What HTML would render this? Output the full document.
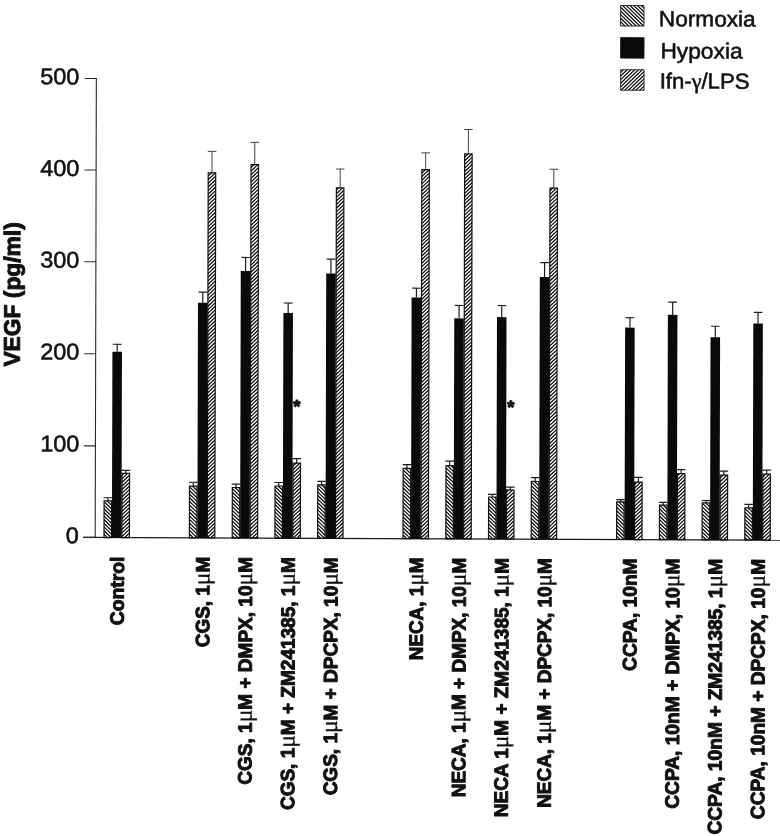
<!DOCTYPE html><html><head><meta charset="utf-8"><title>VEGF chart</title>
<style>html,body{margin:0;padding:0;background:#fff}svg{display:block}text{font-family:"Liberation Sans",Arial,Helvetica,sans-serif;fill:#111;stroke:#111;stroke-width:.55px;stroke-linejoin:round}.b{font-weight:bold;stroke-width:1px}.b .mu{stroke-width:.35px;font-weight:normal;font-family:"Liberation Serif","DejaVu Serif",serif;font-size:24px}.gm{font-family:"Liberation Serif","DejaVu Serif",serif}</style></head><body>
<svg width="780" height="836" viewBox="0 0 780 836">
<defs>
<clipPath id="cn"><rect x="104.0" y="500.8" width="7.5" height="36.7"/><rect x="189.4" y="485.7" width="7.5" height="51.8"/><rect x="232.2" y="487.0" width="7.5" height="50.5"/><rect x="274.9" y="485.3" width="7.5" height="52.2"/><rect x="317.6" y="484.0" width="7.5" height="53.5"/><rect x="403.0" y="467.2" width="7.5" height="70.3"/><rect x="445.8" y="464.2" width="7.5" height="73.3"/><rect x="488.5" y="495.5" width="7.5" height="42.0"/><rect x="531.2" y="479.8" width="7.5" height="57.7"/><rect x="616.6" y="499.8" width="7.5" height="37.7"/><rect x="659.4" y="503.0" width="7.5" height="34.5"/><rect x="702.1" y="500.6" width="7.5" height="36.9"/><rect x="744.8" y="505.3" width="7.5" height="32.2"/><rect x="619.3" y="3.5" width="23.4" height="20.5"/></clipPath><clipPath id="ci"><rect x="121.9" y="473.2" width="7.5" height="64.3"/><rect x="207.3" y="172.4" width="7.5" height="365.1"/><rect x="250.1" y="164.1" width="7.5" height="373.4"/><rect x="292.8" y="462.3" width="7.5" height="75.2"/><rect x="335.5" y="187.0" width="7.5" height="350.5"/><rect x="420.9" y="168.4" width="7.5" height="369.1"/><rect x="463.7" y="152.5" width="7.5" height="385.0"/><rect x="506.4" y="488.4" width="7.5" height="49.1"/><rect x="549.1" y="186.4" width="7.5" height="351.1"/><rect x="634.5" y="480.0" width="7.5" height="57.5"/><rect x="677.3" y="471.3" width="7.5" height="66.2"/><rect x="720.0" y="472.7" width="7.5" height="64.8"/><rect x="762.7" y="471.5" width="7.5" height="66.0"/><rect x="619.5" y="67.7" width="23.4" height="20.5"/></clipPath>
</defs>
<rect width="780" height="836" fill="#fff"/>
<g id="chart" transform="matrix(1 0.0038 -0.0025 1 1.3438 -0.3648)">
<line x1="95.2" y1="78" x2="95.2" y2="537.5" stroke="#2a2a2a" stroke-width="1.1"/>
<line x1="83" y1="537.5" x2="782" y2="537.5" stroke="#1a1a1a" stroke-width="1.3"/>
<line x1="83.6" y1="537.4" x2="95.2" y2="537.4" stroke="#2a2a2a" stroke-width="1.1"/>
<text transform="translate(78.7,543.3) scale(1.02,1)" font-size="23" text-anchor="end">0</text>
<line x1="83.6" y1="445.9" x2="95.2" y2="445.9" stroke="#2a2a2a" stroke-width="1.1"/>
<text transform="translate(79.1,451.6) scale(1.02,1)" font-size="23" text-anchor="end">100</text>
<line x1="83.6" y1="353.8" x2="95.2" y2="353.8" stroke="#2a2a2a" stroke-width="1.1"/>
<text transform="translate(78.9,359.7) scale(1.02,1)" font-size="23" text-anchor="end">200</text>
<line x1="83.6" y1="261.8" x2="95.2" y2="261.8" stroke="#2a2a2a" stroke-width="1.1"/>
<text transform="translate(78.6,267.8) scale(1.02,1)" font-size="23" text-anchor="end">300</text>
<line x1="83.6" y1="170.0" x2="95.2" y2="170.0" stroke="#2a2a2a" stroke-width="1.1"/>
<text transform="translate(78.4,176.1) scale(1.02,1)" font-size="23" text-anchor="end">400</text>
<line x1="83.6" y1="78.5" x2="95.2" y2="78.5" stroke="#2a2a2a" stroke-width="1.1"/>
<text transform="translate(78.2,84.5) scale(1.02,1)" font-size="23" text-anchor="end">500</text>
<text transform="translate(19.4,294.7) rotate(-90)" class="b" font-size="22.8" text-anchor="middle">VEGF (pg/ml)</text>
<path d="M107.8,500.8 V497.7 M103.5,497.7 H112.1" stroke="#1c1c1c" stroke-width="1.2" fill="none"/>
<path d="M116.7,351.6 V344.2 M112.4,344.2 H121.0" stroke="#1c1c1c" stroke-width="1.2" fill="none"/>
<path d="M125.7,473.2 V470.2 M121.4,470.2 H130.0" stroke="#1c1c1c" stroke-width="1.2" fill="none"/>
<text class="xl b" transform="translate(124.0,556.4) rotate(-90) scale(0.9971,1)" font-size="19.4" font-weight="bold" text-anchor="end">Control</text>
<path d="M193.2,485.7 V481.9 M188.9,481.9 H197.5" stroke="#1c1c1c" stroke-width="1.2" fill="none"/>
<path d="M202.2,302.3 V291.8 M197.9,291.8 H206.5" stroke="#1c1c1c" stroke-width="1.2" fill="none"/>
<path d="M211.1,172.4 V150.9 M206.8,150.9 H215.4" stroke="#3a3a3a" stroke-width="0.95" fill="none"/>
<text class="xl b" transform="translate(209.5,556.4) rotate(-90) scale(0.9752,1)" font-size="19.4" font-weight="bold" text-anchor="end">CGS, 1<tspan class="mu">μ</tspan>M</text>
<path d="M235.9,487.0 V483.6 M231.6,483.6 H240.2" stroke="#1c1c1c" stroke-width="1.2" fill="none"/>
<path d="M244.9,270.5 V256.9 M240.6,256.9 H249.2" stroke="#1c1c1c" stroke-width="1.2" fill="none"/>
<path d="M253.8,164.1 V141.8 M249.5,141.8 H258.1" stroke="#3a3a3a" stroke-width="0.95" fill="none"/>
<text class="xl b" transform="translate(252.2,556.4) rotate(-90) scale(0.9811,1)" font-size="19.4" font-weight="bold" text-anchor="end">CGS, 1<tspan class="mu">μ</tspan>M + DMPX, 10<tspan class="mu">μ</tspan>M</text>
<path d="M278.6,485.3 V481.8 M274.3,481.8 H282.9" stroke="#1c1c1c" stroke-width="1.2" fill="none"/>
<path d="M287.6,312.3 V302.3 M283.3,302.3 H291.9" stroke="#1c1c1c" stroke-width="1.2" fill="none"/>
<path d="M296.5,462.3 V457.9 M292.2,457.9 H300.8" stroke="#1c1c1c" stroke-width="1.2" fill="none"/>
<text class="xl b" transform="translate(294.9,556.4) rotate(-90) scale(0.9802,1)" font-size="19.4" font-weight="bold" text-anchor="end">CGS, 1<tspan class="mu">μ</tspan>M + ZM241385, 1<tspan class="mu">μ</tspan>M</text>
<path d="M321.4,484.0 V480.6 M317.1,480.6 H325.7" stroke="#1c1c1c" stroke-width="1.2" fill="none"/>
<path d="M330.3,272.6 V258.3 M326.0,258.3 H334.6" stroke="#1c1c1c" stroke-width="1.2" fill="none"/>
<path d="M339.3,187.0 V168.1 M335.0,168.1 H343.6" stroke="#3a3a3a" stroke-width="0.95" fill="none"/>
<text class="xl b" transform="translate(337.6,556.4) rotate(-90) scale(0.9798,1)" font-size="19.4" font-weight="bold" text-anchor="end">CGS, 1<tspan class="mu">μ</tspan>M + DPCPX, 10<tspan class="mu">μ</tspan>M</text>
<path d="M406.8,467.2 V463.4 M402.5,463.4 H411.1" stroke="#1c1c1c" stroke-width="1.2" fill="none"/>
<path d="M415.8,296.2 V287.0 M411.5,287.0 H420.1" stroke="#1c1c1c" stroke-width="1.2" fill="none"/>
<path d="M424.7,168.4 V151.6 M420.4,151.6 H429.0" stroke="#3a3a3a" stroke-width="0.95" fill="none"/>
<text class="xl b" transform="translate(423.1,556.4) rotate(-90) scale(0.9716,1)" font-size="19.4" font-weight="bold" text-anchor="end">NECA, 1<tspan class="mu">μ</tspan>M</text>
<path d="M449.5,464.2 V459.7 M445.2,459.7 H453.8" stroke="#1c1c1c" stroke-width="1.2" fill="none"/>
<path d="M458.5,317.0 V304.1 M454.2,304.1 H462.8" stroke="#1c1c1c" stroke-width="1.2" fill="none"/>
<path d="M467.4,152.5 V128.1 M463.1,128.1 H471.7" stroke="#3a3a3a" stroke-width="0.95" fill="none"/>
<text class="xl b" transform="translate(465.8,556.4) rotate(-90) scale(0.9772,1)" font-size="19.4" font-weight="bold" text-anchor="end">NECA, 1<tspan class="mu">μ</tspan>M + DMPX, 10<tspan class="mu">μ</tspan>M</text>
<path d="M492.2,495.5 V492.8 M487.9,492.8 H496.5" stroke="#1c1c1c" stroke-width="1.2" fill="none"/>
<path d="M501.2,315.6 V304.0 M496.9,304.0 H505.5" stroke="#1c1c1c" stroke-width="1.2" fill="none"/>
<path d="M510.1,488.4 V485.5 M505.8,485.5 H514.4" stroke="#1c1c1c" stroke-width="1.2" fill="none"/>
<text class="xl b" transform="translate(508.5,556.4) rotate(-90) scale(0.9789,1)" font-size="19.4" font-weight="bold" text-anchor="end">NECA 1<tspan class="mu">μ</tspan>M + ZM241385, 1<tspan class="mu">μ</tspan>M</text>
<path d="M535.0,479.8 V476.0 M530.7,476.0 H539.3" stroke="#1c1c1c" stroke-width="1.2" fill="none"/>
<path d="M543.9,275.4 V260.9 M539.6,260.9 H548.2" stroke="#1c1c1c" stroke-width="1.2" fill="none"/>
<path d="M552.9,186.4 V167.5 M548.6,167.5 H557.2" stroke="#3a3a3a" stroke-width="0.95" fill="none"/>
<text class="xl b" transform="translate(551.3,556.4) rotate(-90) scale(0.9762,1)" font-size="19.4" font-weight="bold" text-anchor="end">NECA, 1<tspan class="mu">μ</tspan>M + DPCPX, 10<tspan class="mu">μ</tspan>M</text>
<path d="M620.4,499.8 V497.6 M616.1,497.6 H624.7" stroke="#1c1c1c" stroke-width="1.2" fill="none"/>
<path d="M629.4,325.6 V315.7 M625.1,315.7 H633.7" stroke="#1c1c1c" stroke-width="1.2" fill="none"/>
<path d="M638.3,480.0 V475.3 M634.0,475.3 H642.6" stroke="#1c1c1c" stroke-width="1.2" fill="none"/>
<text class="xl b" transform="translate(636.7,556.4) rotate(-90) scale(0.9886,1)" font-size="19.4" font-weight="bold" text-anchor="end">CCPA, 10nM</text>
<path d="M663.1,503.0 V500.2 M658.8,500.2 H667.4" stroke="#1c1c1c" stroke-width="1.2" fill="none"/>
<path d="M672.1,312.7 V300.0 M667.8,300.0 H676.4" stroke="#1c1c1c" stroke-width="1.2" fill="none"/>
<path d="M681.0,471.3 V467.4 M676.7,467.4 H685.3" stroke="#1c1c1c" stroke-width="1.2" fill="none"/>
<text class="xl b" transform="translate(679.4,556.4) rotate(-90) scale(0.9874,1)" font-size="19.4" font-weight="bold" text-anchor="end">CCPA, 10nM + DMPX, 10<tspan class="mu">μ</tspan>M</text>
<path d="M705.8,500.6 V498.2 M701.5,498.2 H710.1" stroke="#1c1c1c" stroke-width="1.2" fill="none"/>
<path d="M714.8,334.9 V323.9 M710.5,323.9 H719.1" stroke="#1c1c1c" stroke-width="1.2" fill="none"/>
<path d="M723.7,472.7 V468.8 M719.4,468.8 H728.0" stroke="#1c1c1c" stroke-width="1.2" fill="none"/>
<text class="xl b" transform="translate(722.1,556.4) rotate(-90) scale(0.9885,1)" font-size="19.4" font-weight="bold" text-anchor="end">CCPA, 10nM + ZM241385, 1<tspan class="mu">μ</tspan>M</text>
<path d="M748.6,505.3 V501.9 M744.3,501.9 H752.9" stroke="#1c1c1c" stroke-width="1.2" fill="none"/>
<path d="M757.5,321.0 V309.9 M753.2,309.9 H761.8" stroke="#1c1c1c" stroke-width="1.2" fill="none"/>
<path d="M766.5,471.5 V467.5 M762.2,467.5 H770.8" stroke="#1c1c1c" stroke-width="1.2" fill="none"/>
<text class="xl b" transform="translate(764.9,556.4) rotate(-90) scale(0.9849,1)" font-size="19.4" font-weight="bold" text-anchor="end">CCPA, 10nM + DPCPX, 10<tspan class="mu">μ</tspan>M</text>
<path clip-path="url(#cn)" d="M103.0,486.2L112.5,495.4M103.0,489.8L112.5,499.0M103.0,493.4L112.5,502.6M103.0,497.1L112.5,506.2M103.0,500.7L112.5,509.8M103.0,504.3L112.5,513.5M103.0,507.9L112.5,517.1M103.0,511.5L112.5,520.7M103.0,515.1L112.5,524.3M103.0,518.7L112.5,527.9M103.0,522.4L112.5,531.5M103.0,526.0L112.5,535.1M103.0,529.6L112.5,538.8M103.0,533.2L112.5,542.4M103.0,536.8L112.5,546.0M103.0,540.4L112.5,549.6M188.4,471.1L197.9,480.3M188.4,474.7L197.9,483.9M188.4,478.4L197.9,487.5M188.4,482.0L197.9,491.1M188.4,485.6L197.9,494.8M188.4,489.2L197.9,498.4M188.4,492.8L197.9,502.0M188.4,496.4L197.9,505.6M188.4,500.0L197.9,509.2M188.4,503.7L197.9,512.8M188.4,507.3L197.9,516.4M188.4,510.9L197.9,520.1M188.4,514.5L197.9,523.7M188.4,518.1L197.9,527.3M188.4,521.7L197.9,530.9M188.4,525.3L197.9,534.5M188.4,529.0L197.9,538.1M188.4,532.6L197.9,541.7M188.4,536.2L197.9,545.4M188.4,539.8L197.9,549.0M188.4,543.4L197.9,552.6M231.2,472.6L240.7,481.8M231.2,476.2L240.7,485.4M231.2,479.9L240.7,489.0M231.2,483.5L240.7,492.6M231.2,487.1L240.7,496.3M231.2,490.7L240.7,499.9M231.2,494.3L240.7,503.5M231.2,497.9L240.7,507.1M231.2,501.5L240.7,510.7M231.2,505.2L240.7,514.3M231.2,508.8L240.7,517.9M231.2,512.4L240.7,521.6M231.2,516.0L240.7,525.2M231.2,519.6L240.7,528.8M231.2,523.2L240.7,532.4M231.2,526.8L240.7,536.0M231.2,530.5L240.7,539.6M231.2,534.1L240.7,543.2M231.2,537.7L240.7,546.9M231.2,541.3L240.7,550.5M273.9,470.5L283.4,479.7M273.9,474.1L283.4,483.3M273.9,477.7L283.4,486.9M273.9,481.3L283.4,490.5M273.9,485.0L283.4,494.1M273.9,488.6L283.4,497.8M273.9,492.2L283.4,501.4M273.9,495.8L283.4,505.0M273.9,499.4L283.4,508.6M273.9,503.0L283.4,512.2M273.9,506.7L283.4,515.8M273.9,510.3L283.4,519.4M273.9,513.9L283.4,523.1M273.9,517.5L283.4,526.7M273.9,521.1L283.4,530.3M273.9,524.7L283.4,533.9M273.9,528.3L283.4,537.5M273.9,532.0L283.4,541.1M273.9,535.6L283.4,544.7M273.9,539.2L283.4,548.4M273.9,542.8L283.4,552.0M316.6,472.0L326.1,481.2M316.6,475.6L326.1,484.8M316.6,479.2L326.1,488.4M316.6,482.8L326.1,492.0M316.6,486.5L326.1,495.6M316.6,490.1L326.1,499.2M316.6,493.7L326.1,502.9M316.6,497.3L326.1,506.5M316.6,500.9L326.1,510.1M316.6,504.5L326.1,513.7M316.6,508.1L326.1,517.3M316.6,511.8L326.1,520.9M316.6,515.4L326.1,524.5M316.6,519.0L326.1,528.2M316.6,522.6L326.1,531.8M316.6,526.2L326.1,535.4M316.6,529.8L326.1,539.0M316.6,533.4L326.1,542.6M316.6,537.1L326.1,546.2M316.6,540.7L326.1,549.9M402.0,453.3L411.5,462.5M402.0,456.9L411.5,466.1M402.0,460.5L411.5,469.7M402.0,464.2L411.5,473.3M402.0,467.8L411.5,476.9M402.0,471.4L411.5,480.6M402.0,475.0L411.5,484.2M402.0,478.6L411.5,487.8M402.0,482.2L411.5,491.4M402.0,485.8L411.5,495.0M402.0,489.5L411.5,498.6M402.0,493.1L411.5,502.2M402.0,496.7L411.5,505.9M402.0,500.3L411.5,509.5M402.0,503.9L411.5,513.1M402.0,507.5L411.5,516.7M402.0,511.1L411.5,520.3M402.0,514.8L411.5,523.9M402.0,518.4L411.5,527.5M402.0,522.0L411.5,531.2M402.0,525.6L411.5,534.8M402.0,529.2L411.5,538.4M402.0,532.8L411.5,542.0M402.0,536.4L411.5,545.6M402.0,540.1L411.5,549.2M402.0,543.7L411.5,552.8M444.8,451.2L454.3,460.4M444.8,454.8L454.3,464.0M444.8,458.4L454.3,467.6M444.8,462.0L454.3,471.2M444.8,465.6L454.3,474.8M444.8,469.3L454.3,478.4M444.8,472.9L454.3,482.1M444.8,476.5L454.3,485.7M444.8,480.1L454.3,489.3M444.8,483.7L454.3,492.9M444.8,487.3L454.3,496.5M444.8,490.9L454.3,500.1M444.8,494.6L454.3,503.7M444.8,498.2L454.3,507.4M444.8,501.8L454.3,511.0M444.8,505.4L454.3,514.6M444.8,509.0L454.3,518.2M444.8,512.6L454.3,521.8M444.8,516.2L454.3,525.4M444.8,519.9L454.3,529.0M444.8,523.5L454.3,532.7M444.8,527.1L454.3,536.3M444.8,530.7L454.3,539.9M444.8,534.3L454.3,543.5M444.8,537.9L454.3,547.1M444.8,541.6L454.3,550.7M487.5,481.6L497.0,490.8M487.5,485.2L497.0,494.4M487.5,488.8L497.0,498.0M487.5,492.4L497.0,501.6M487.5,496.1L497.0,505.2M487.5,499.7L497.0,508.8M487.5,503.3L497.0,512.5M487.5,506.9L497.0,516.1M487.5,510.5L497.0,519.7M487.5,514.1L497.0,523.3M487.5,517.7L497.0,526.9M487.5,521.4L497.0,530.5M487.5,525.0L497.0,534.1M487.5,528.6L497.0,537.8M487.5,532.2L497.0,541.4M487.5,535.8L497.0,545.0M487.5,539.4L497.0,548.6M487.5,543.0L497.0,552.2M530.2,465.0L539.7,474.2M530.2,468.6L539.7,477.8M530.2,472.3L539.7,481.4M530.2,475.9L539.7,485.0M530.2,479.5L539.7,488.7M530.2,483.1L539.7,492.3M530.2,486.7L539.7,495.9M530.2,490.3L539.7,499.5M530.2,493.9L539.7,503.1M530.2,497.6L539.7,506.7M530.2,501.2L539.7,510.3M530.2,504.8L539.7,514.0M530.2,508.4L539.7,517.6M530.2,512.0L539.7,521.2M530.2,515.6L539.7,524.8M530.2,519.2L539.7,528.4M530.2,522.9L539.7,532.0M530.2,526.5L539.7,535.6M530.2,530.1L539.7,539.3M530.2,533.7L539.7,542.9M530.2,537.3L539.7,546.5M530.2,540.9L539.7,550.1M615.6,486.1L625.1,495.3M615.6,489.7L625.1,498.9M615.6,493.3L625.1,502.5M615.6,496.9L625.1,506.1M615.6,500.5L625.1,509.7M615.6,504.2L625.1,513.3M615.6,507.8L625.1,516.9M615.6,511.4L625.1,520.6M615.6,515.0L625.1,524.2M615.6,518.6L625.1,527.8M615.6,522.2L625.1,531.4M615.6,525.8L625.1,535.0M615.6,529.5L625.1,538.6M615.6,533.1L625.1,542.3M615.6,536.7L625.1,545.9M615.6,540.3L625.1,549.5M658.4,491.2L667.9,500.4M658.4,494.8L667.9,504.0M658.4,498.4L667.9,507.6M658.4,502.0L667.9,511.2M658.4,505.7L667.9,514.8M658.4,509.3L667.9,518.4M658.4,512.9L667.9,522.1M658.4,516.5L667.9,525.7M658.4,520.1L667.9,529.3M658.4,523.7L667.9,532.9M658.4,527.3L667.9,536.5M658.4,531.0L667.9,540.1M658.4,534.6L667.9,543.7M658.4,538.2L667.9,547.4M658.4,541.8L667.9,551.0M701.1,485.5L710.6,494.6M701.1,489.1L710.6,498.3M701.1,492.7L710.6,501.9M701.1,496.3L710.6,505.5M701.1,499.9L710.6,509.1M701.1,503.5L710.6,512.7M701.1,507.2L710.6,516.3M701.1,510.8L710.6,519.9M701.1,514.4L710.6,523.6M701.1,518.0L710.6,527.2M701.1,521.6L710.6,530.8M701.1,525.2L710.6,534.4M701.1,528.8L710.6,538.0M701.1,532.5L710.6,541.6M701.1,536.1L710.6,545.2M701.1,539.7L710.6,548.9M701.1,543.3L710.6,552.5M743.8,490.6L753.3,499.8M743.8,494.2L753.3,503.4M743.8,497.8L753.3,507.0M743.8,501.4L753.3,510.6M743.8,505.0L753.3,514.2M743.8,508.6L753.3,517.8M743.8,512.3L753.3,521.4M743.8,515.9L753.3,525.1M743.8,519.5L753.3,528.7M743.8,523.1L753.3,532.3M743.8,526.7L753.3,535.9M743.8,530.3L753.3,539.5M743.8,533.9L753.3,543.1M743.8,537.6L753.3,546.7M743.8,541.2L753.3,550.4M618.3,-24.6L643.7,-0.0M618.3,-21.0L643.7,3.6M618.3,-17.3L643.7,7.2M618.3,-13.7L643.7,10.8M618.3,-10.1L643.7,14.4M618.3,-6.5L643.7,18.0M618.3,-2.9L643.7,21.6M618.3,0.7L643.7,25.3M618.3,4.3L643.7,28.9M618.3,8.0L643.7,32.5M618.3,11.6L643.7,36.1M618.3,15.2L643.7,39.7M618.3,18.8L643.7,43.3M618.3,22.4L643.7,46.9M618.3,26.0L643.7,50.6M618.3,29.6L643.7,54.2" stroke="#000" stroke-width="1.18" fill="none"/>
<path clip-path="url(#ci)" d="M120.9,468.8L130.4,459.6M120.9,472.4L130.4,463.2M120.9,476.0L130.4,466.8M120.9,479.6L130.4,470.5M120.9,483.2L130.4,474.1M120.9,486.9L130.4,477.7M120.9,490.5L130.4,481.3M120.9,494.1L130.4,484.9M120.9,497.7L130.4,488.5M120.9,501.3L130.4,492.1M120.9,504.9L130.4,495.8M120.9,508.5L130.4,499.4M120.9,512.2L130.4,503.0M120.9,515.8L130.4,506.6M120.9,519.4L130.4,510.2M120.9,523.0L130.4,513.8M120.9,526.6L130.4,517.4M120.9,530.2L130.4,521.1M120.9,533.8L130.4,524.7M120.9,537.5L130.4,528.3M120.9,541.1L130.4,531.9M120.9,544.7L130.4,535.5M120.9,548.3L130.4,539.1M120.9,551.9L130.4,542.7M206.3,169.4L215.8,160.2M206.3,173.0L215.8,163.9M206.3,176.6L215.8,167.5M206.3,180.3L215.8,171.1M206.3,183.9L215.8,174.7M206.3,187.5L215.8,178.3M206.3,191.1L215.8,181.9M206.3,194.7L215.8,185.5M206.3,198.3L215.8,189.2M206.3,201.9L215.8,192.8M206.3,205.6L215.8,196.4M206.3,209.2L215.8,200.0M206.3,212.8L215.8,203.6M206.3,216.4L215.8,207.2M206.3,220.0L215.8,210.8M206.3,223.6L215.8,214.5M206.3,227.2L215.8,218.1M206.3,230.9L215.8,221.7M206.3,234.5L215.8,225.3M206.3,238.1L215.8,228.9M206.3,241.7L215.8,232.5M206.3,245.3L215.8,236.1M206.3,248.9L215.8,239.8M206.3,252.5L215.8,243.4M206.3,256.2L215.8,247.0M206.3,259.8L215.8,250.6M206.3,263.4L215.8,254.2M206.3,267.0L215.8,257.8M206.3,270.6L215.8,261.4M206.3,274.2L215.8,265.1M206.3,277.8L215.8,268.7M206.3,281.5L215.8,272.3M206.3,285.1L215.8,275.9M206.3,288.7L215.8,279.5M206.3,292.3L215.8,283.1M206.3,295.9L215.8,286.7M206.3,299.5L215.8,290.4M206.3,303.1L215.8,294.0M206.3,306.8L215.8,297.6M206.3,310.4L215.8,301.2M206.3,314.0L215.8,304.8M206.3,317.6L215.8,308.4M206.3,321.2L215.8,312.0M206.3,324.8L215.8,315.7M206.3,328.4L215.8,319.3M206.3,332.1L215.8,322.9M206.3,335.7L215.8,326.5M206.3,339.3L215.8,330.1M206.3,342.9L215.8,333.7M206.3,346.5L215.8,337.3M206.3,350.1L215.8,341.0M206.3,353.7L215.8,344.6M206.3,357.4L215.8,348.2M206.3,361.0L215.8,351.8M206.3,364.6L215.8,355.4M206.3,368.2L215.8,359.0M206.3,371.8L215.8,362.6M206.3,375.4L215.8,366.3M206.3,379.0L215.8,369.9M206.3,382.7L215.8,373.5M206.3,386.3L215.8,377.1M206.3,389.9L215.8,380.7M206.3,393.5L215.8,384.3M206.3,397.1L215.8,387.9M206.3,400.7L215.8,391.6M206.3,404.3L215.8,395.2M206.3,408.0L215.8,398.8M206.3,411.6L215.8,402.4M206.3,415.2L215.8,406.0M206.3,418.8L215.8,409.6M206.3,422.4L215.8,413.2M206.3,426.0L215.8,416.9M206.3,429.6L215.8,420.5M206.3,433.3L215.8,424.1M206.3,436.9L215.8,427.7M206.3,440.5L215.8,431.3M206.3,444.1L215.8,434.9M206.3,447.7L215.8,438.5M206.3,451.3L215.8,442.2M206.3,454.9L215.8,445.8M206.3,458.6L215.8,449.4M206.3,462.2L215.8,453.0M206.3,465.8L215.8,456.6M206.3,469.4L215.8,460.2M206.3,473.0L215.8,463.8M206.3,476.6L215.8,467.5M206.3,480.3L215.8,471.1M206.3,483.9L215.8,474.7M206.3,487.5L215.8,478.3M206.3,491.1L215.8,481.9M206.3,494.7L215.8,485.5M206.3,498.3L215.8,489.1M206.3,501.9L215.8,492.8M206.3,505.6L215.8,496.4M206.3,509.2L215.8,500.0M206.3,512.8L215.8,503.6M206.3,516.4L215.8,507.2M206.3,520.0L215.8,510.8M206.3,523.6L215.8,514.4M206.3,527.2L215.8,518.1M206.3,530.9L215.8,521.7M206.3,534.5L215.8,525.3M206.3,538.1L215.8,528.9M206.3,541.7L215.8,532.5M206.3,545.3L215.8,536.1M206.3,548.9L215.8,539.8M206.3,552.5L215.8,543.4M249.1,160.7L258.6,151.5M249.1,164.3L258.6,155.1M249.1,167.9L258.6,158.7M249.1,171.5L258.6,162.4M249.1,175.1L258.6,166.0M249.1,178.8L258.6,169.6M249.1,182.4L258.6,173.2M249.1,186.0L258.6,176.8M249.1,189.6L258.6,180.4M249.1,193.2L258.6,184.0M249.1,196.8L258.6,187.7M249.1,200.4L258.6,191.3M249.1,204.1L258.6,194.9M249.1,207.7L258.6,198.5M249.1,211.3L258.6,202.1M249.1,214.9L258.6,205.7M249.1,218.5L258.6,209.3M249.1,222.1L258.6,213.0M249.1,225.7L258.6,216.6M249.1,229.4L258.6,220.2M249.1,233.0L258.6,223.8M249.1,236.6L258.6,227.4M249.1,240.2L258.6,231.0M249.1,243.8L258.6,234.6M249.1,247.4L258.6,238.3M249.1,251.0L258.6,241.9M249.1,254.7L258.6,245.5M249.1,258.3L258.6,249.1M249.1,261.9L258.6,252.7M249.1,265.5L258.6,256.3M249.1,269.1L258.6,259.9M249.1,272.7L258.6,263.6M249.1,276.3L258.6,267.2M249.1,280.0L258.6,270.8M249.1,283.6L258.6,274.4M249.1,287.2L258.6,278.0M249.1,290.8L258.6,281.6M249.1,294.4L258.6,285.2M249.1,298.0L258.6,288.9M249.1,301.6L258.6,292.5M249.1,305.3L258.6,296.1M249.1,308.9L258.6,299.7M249.1,312.5L258.6,303.3M249.1,316.1L258.6,306.9M249.1,319.7L258.6,310.5M249.1,323.3L258.6,314.2M249.1,326.9L258.6,317.8M249.1,330.6L258.6,321.4M249.1,334.2L258.6,325.0M249.1,337.8L258.6,328.6M249.1,341.4L258.6,332.2M249.1,345.0L258.6,335.8M249.1,348.6L258.6,339.5M249.1,352.3L258.6,343.1M249.1,355.9L258.6,346.7M249.1,359.5L258.6,350.3M249.1,363.1L258.6,353.9M249.1,366.7L258.6,357.5M249.1,370.3L258.6,361.1M249.1,373.9L258.6,364.8M249.1,377.6L258.6,368.4M249.1,381.2L258.6,372.0M249.1,384.8L258.6,375.6M249.1,388.4L258.6,379.2M249.1,392.0L258.6,382.8M249.1,395.6L258.6,386.4M249.1,399.2L258.6,390.1M249.1,402.9L258.6,393.7M249.1,406.5L258.6,397.3M249.1,410.1L258.6,400.9M249.1,413.7L258.6,404.5M249.1,417.3L258.6,408.1M249.1,420.9L258.6,411.8M249.1,424.5L258.6,415.4M249.1,428.2L258.6,419.0M249.1,431.8L258.6,422.6M249.1,435.4L258.6,426.2M249.1,439.0L258.6,429.8M249.1,442.6L258.6,433.4M249.1,446.2L258.6,437.1M249.1,449.8L258.6,440.7M249.1,453.5L258.6,444.3M249.1,457.1L258.6,447.9M249.1,460.7L258.6,451.5M249.1,464.3L258.6,455.1M249.1,467.9L258.6,458.7M249.1,471.5L258.6,462.4M249.1,475.1L258.6,466.0M249.1,478.8L258.6,469.6M249.1,482.4L258.6,473.2M249.1,486.0L258.6,476.8M249.1,489.6L258.6,480.4M249.1,493.2L258.6,484.0M249.1,496.8L258.6,487.7M249.1,500.4L258.6,491.3M249.1,504.1L258.6,494.9M249.1,507.7L258.6,498.5M249.1,511.3L258.6,502.1M249.1,514.9L258.6,505.7M249.1,518.5L258.6,509.3M249.1,522.1L258.6,513.0M249.1,525.7L258.6,516.6M249.1,529.4L258.6,520.2M249.1,533.0L258.6,523.8M249.1,536.6L258.6,527.4M249.1,540.2L258.6,531.0M249.1,543.8L258.6,534.6M249.1,547.4L258.6,538.3M249.1,551.0L258.6,541.9M291.8,459.2L301.3,450.0M291.8,462.8L301.3,453.6M291.8,466.4L301.3,457.2M291.8,470.0L301.3,460.9M291.8,473.6L301.3,464.5M291.8,477.3L301.3,468.1M291.8,480.9L301.3,471.7M291.8,484.5L301.3,475.3M291.8,488.1L301.3,478.9M291.8,491.7L301.3,482.5M291.8,495.3L301.3,486.2M291.8,498.9L301.3,489.8M291.8,502.6L301.3,493.4M291.8,506.2L301.3,497.0M291.8,509.8L301.3,500.6M291.8,513.4L301.3,504.2M291.8,517.0L301.3,507.8M291.8,520.6L301.3,511.5M291.8,524.2L301.3,515.1M291.8,527.9L301.3,518.7M291.8,531.5L301.3,522.3M291.8,535.1L301.3,525.9M291.8,538.7L301.3,529.5M291.8,542.3L301.3,533.1M291.8,545.9L301.3,536.8M291.8,549.5L301.3,540.4M334.5,183.0L344.0,173.8M334.5,186.6L344.0,177.4M334.5,190.2L344.0,181.0M334.5,193.8L344.0,184.7M334.5,197.5L344.0,188.3M334.5,201.1L344.0,191.9M334.5,204.7L344.0,195.5M334.5,208.3L344.0,199.1M334.5,211.9L344.0,202.7M334.5,215.5L344.0,206.4M334.5,219.1L344.0,210.0M334.5,222.8L344.0,213.6M334.5,226.4L344.0,217.2M334.5,230.0L344.0,220.8M334.5,233.6L344.0,224.4M334.5,237.2L344.0,228.0M334.5,240.8L344.0,231.7M334.5,244.4L344.0,235.3M334.5,248.1L344.0,238.9M334.5,251.7L344.0,242.5M334.5,255.3L344.0,246.1M334.5,258.9L344.0,249.7M334.5,262.5L344.0,253.3M334.5,266.1L344.0,257.0M334.5,269.7L344.0,260.6M334.5,273.4L344.0,264.2M334.5,277.0L344.0,267.8M334.5,280.6L344.0,271.4M334.5,284.2L344.0,275.0M334.5,287.8L344.0,278.6M334.5,291.4L344.0,282.3M334.5,295.0L344.0,285.9M334.5,298.7L344.0,289.5M334.5,302.3L344.0,293.1M334.5,305.9L344.0,296.7M334.5,309.5L344.0,300.3M334.5,313.1L344.0,303.9M334.5,316.7L344.0,307.6M334.5,320.3L344.0,311.2M334.5,324.0L344.0,314.8M334.5,327.6L344.0,318.4M334.5,331.2L344.0,322.0M334.5,334.8L344.0,325.6M334.5,338.4L344.0,329.2M334.5,342.0L344.0,332.9M334.5,345.6L344.0,336.5M334.5,349.3L344.0,340.1M334.5,352.9L344.0,343.7M334.5,356.5L344.0,347.3M334.5,360.1L344.0,350.9M334.5,363.7L344.0,354.5M334.5,367.3L344.0,358.2M334.5,370.9L344.0,361.8M334.5,374.6L344.0,365.4M334.5,378.2L344.0,369.0M334.5,381.8L344.0,372.6M334.5,385.4L344.0,376.2M334.5,389.0L344.0,379.8M334.5,392.6L344.0,383.5M334.5,396.2L344.0,387.1M334.5,399.9L344.0,390.7M334.5,403.5L344.0,394.3M334.5,407.1L344.0,397.9M334.5,410.7L344.0,401.5M334.5,414.3L344.0,405.1M334.5,417.9L344.0,408.8M334.5,421.5L344.0,412.4M334.5,425.2L344.0,416.0M334.5,428.8L344.0,419.6M334.5,432.4L344.0,423.2M334.5,436.0L344.0,426.8M334.5,439.6L344.0,430.4M334.5,443.2L344.0,434.1M334.5,446.8L344.0,437.7M334.5,450.5L344.0,441.3M334.5,454.1L344.0,444.9M334.5,457.7L344.0,448.5M334.5,461.3L344.0,452.1M334.5,464.9L344.0,455.7M334.5,468.5L344.0,459.4M334.5,472.1L344.0,463.0M334.5,475.8L344.0,466.6M334.5,479.4L344.0,470.2M334.5,483.0L344.0,473.8M334.5,486.6L344.0,477.4M334.5,490.2L344.0,481.0M334.5,493.8L344.0,484.7M334.5,497.4L344.0,488.3M334.5,501.1L344.0,491.9M334.5,504.7L344.0,495.5M334.5,508.3L344.0,499.1M334.5,511.9L344.0,502.7M334.5,515.5L344.0,506.3M334.5,519.1L344.0,510.0M334.5,522.8L344.0,513.6M334.5,526.4L344.0,517.2M334.5,530.0L344.0,520.8M334.5,533.6L344.0,524.4M334.5,537.2L344.0,528.0M334.5,540.8L344.0,531.6M334.5,544.4L344.0,535.3M334.5,548.1L344.0,538.9M334.5,551.7L344.0,542.5M419.9,165.5L429.4,156.4M419.9,169.2L429.4,160.0M419.9,172.8L429.4,163.6M419.9,176.4L429.4,167.2M419.9,180.0L429.4,170.8M419.9,183.6L429.4,174.4M419.9,187.2L429.4,178.1M419.9,190.8L429.4,181.7M419.9,194.5L429.4,185.3M419.9,198.1L429.4,188.9M419.9,201.7L429.4,192.5M419.9,205.3L429.4,196.1M419.9,208.9L429.4,199.7M419.9,212.5L429.4,203.4M419.9,216.1L429.4,207.0M419.9,219.8L429.4,210.6M419.9,223.4L429.4,214.2M419.9,227.0L429.4,217.8M419.9,230.6L429.4,221.4M419.9,234.2L429.4,225.0M419.9,237.8L429.4,228.7M419.9,241.4L429.4,232.3M419.9,245.1L429.4,235.9M419.9,248.7L429.4,239.5M419.9,252.3L429.4,243.1M419.9,255.9L429.4,246.7M419.9,259.5L429.4,250.3M419.9,263.1L429.4,254.0M419.9,266.7L429.4,257.6M419.9,270.4L429.4,261.2M419.9,274.0L429.4,264.8M419.9,277.6L429.4,268.4M419.9,281.2L429.4,272.0M419.9,284.8L429.4,275.6M419.9,288.4L429.4,279.3M419.9,292.0L429.4,282.9M419.9,295.7L429.4,286.5M419.9,299.3L429.4,290.1M419.9,302.9L429.4,293.7M419.9,306.5L429.4,297.3M419.9,310.1L429.4,300.9M419.9,313.7L429.4,304.6M419.9,317.4L429.4,308.2M419.9,321.0L429.4,311.8M419.9,324.6L429.4,315.4M419.9,328.2L429.4,319.0M419.9,331.8L429.4,322.6M419.9,335.4L429.4,326.2M419.9,339.0L429.4,329.9M419.9,342.7L429.4,333.5M419.9,346.3L429.4,337.1M419.9,349.9L429.4,340.7M419.9,353.5L429.4,344.3M419.9,357.1L429.4,347.9M419.9,360.7L429.4,351.5M419.9,364.3L429.4,355.2M419.9,368.0L429.4,358.8M419.9,371.6L429.4,362.4M419.9,375.2L429.4,366.0M419.9,378.8L429.4,369.6M419.9,382.4L429.4,373.2M419.9,386.0L429.4,376.9M419.9,389.6L429.4,380.5M419.9,393.3L429.4,384.1M419.9,396.9L429.4,387.7M419.9,400.5L429.4,391.3M419.9,404.1L429.4,394.9M419.9,407.7L429.4,398.5M419.9,411.3L429.4,402.2M419.9,414.9L429.4,405.8M419.9,418.6L429.4,409.4M419.9,422.2L429.4,413.0M419.9,425.8L429.4,416.6M419.9,429.4L429.4,420.2M419.9,433.0L429.4,423.8M419.9,436.6L429.4,427.5M419.9,440.2L429.4,431.1M419.9,443.9L429.4,434.7M419.9,447.5L429.4,438.3M419.9,451.1L429.4,441.9M419.9,454.7L429.4,445.5M419.9,458.3L429.4,449.1M419.9,461.9L429.4,452.8M419.9,465.5L429.4,456.4M419.9,469.2L429.4,460.0M419.9,472.8L429.4,463.6M419.9,476.4L429.4,467.2M419.9,480.0L429.4,470.8M419.9,483.6L429.4,474.4M419.9,487.2L429.4,478.1M419.9,490.8L429.4,481.7M419.9,494.5L429.4,485.3M419.9,498.1L429.4,488.9M419.9,501.7L429.4,492.5M419.9,505.3L429.4,496.1M419.9,508.9L429.4,499.7M419.9,512.5L429.4,503.4M419.9,516.1L429.4,507.0M419.9,519.8L429.4,510.6M419.9,523.4L429.4,514.2M419.9,527.0L429.4,517.8M419.9,530.6L429.4,521.4M419.9,534.2L429.4,525.0M419.9,537.8L429.4,528.7M419.9,541.4L429.4,532.3M419.9,545.1L429.4,535.9M419.9,548.7L429.4,539.5M419.9,552.3L429.4,543.1M462.7,149.6L472.2,140.4M462.7,153.2L472.2,144.0M462.7,156.8L472.2,147.6M462.7,160.4L472.2,151.3M462.7,164.0L472.2,154.9M462.7,167.7L472.2,158.5M462.7,171.3L472.2,162.1M462.7,174.9L472.2,165.7M462.7,178.5L472.2,169.3M462.7,182.1L472.2,172.9M462.7,185.7L472.2,176.6M462.7,189.4L472.2,180.2M462.7,193.0L472.2,183.8M462.7,196.6L472.2,187.4M462.7,200.2L472.2,191.0M462.7,203.8L472.2,194.6M462.7,207.4L472.2,198.2M462.7,211.0L472.2,201.9M462.7,214.7L472.2,205.5M462.7,218.3L472.2,209.1M462.7,221.9L472.2,212.7M462.7,225.5L472.2,216.3M462.7,229.1L472.2,219.9M462.7,232.7L472.2,223.5M462.7,236.3L472.2,227.2M462.7,240.0L472.2,230.8M462.7,243.6L472.2,234.4M462.7,247.2L472.2,238.0M462.7,250.8L472.2,241.6M462.7,254.4L472.2,245.2M462.7,258.0L472.2,248.9M462.7,261.6L472.2,252.5M462.7,265.3L472.2,256.1M462.7,268.9L472.2,259.7M462.7,272.5L472.2,263.3M462.7,276.1L472.2,266.9M462.7,279.7L472.2,270.5M462.7,283.3L472.2,274.2M462.7,286.9L472.2,277.8M462.7,290.6L472.2,281.4M462.7,294.2L472.2,285.0M462.7,297.8L472.2,288.6M462.7,301.4L472.2,292.2M462.7,305.0L472.2,295.8M462.7,308.6L472.2,299.5M462.7,312.2L472.2,303.1M462.7,315.9L472.2,306.7M462.7,319.5L472.2,310.3M462.7,323.1L472.2,313.9M462.7,326.7L472.2,317.5M462.7,330.3L472.2,321.1M462.7,333.9L472.2,324.8M462.7,337.5L472.2,328.4M462.7,341.2L472.2,332.0M462.7,344.8L472.2,335.6M462.7,348.4L472.2,339.2M462.7,352.0L472.2,342.8M462.7,355.6L472.2,346.4M462.7,359.2L472.2,350.1M462.7,362.8L472.2,353.7M462.7,366.5L472.2,357.3M462.7,370.1L472.2,360.9M462.7,373.7L472.2,364.5M462.7,377.3L472.2,368.1M462.7,380.9L472.2,371.7M462.7,384.5L472.2,375.4M462.7,388.1L472.2,379.0M462.7,391.8L472.2,382.6M462.7,395.4L472.2,386.2M462.7,399.0L472.2,389.8M462.7,402.6L472.2,393.4M462.7,406.2L472.2,397.0M462.7,409.8L472.2,400.7M462.7,413.4L472.2,404.3M462.7,417.1L472.2,407.9M462.7,420.7L472.2,411.5M462.7,424.3L472.2,415.1M462.7,427.9L472.2,418.7M462.7,431.5L472.2,422.3M462.7,435.1L472.2,426.0M462.7,438.7L472.2,429.6M462.7,442.4L472.2,433.2M462.7,446.0L472.2,436.8M462.7,449.6L472.2,440.4M462.7,453.2L472.2,444.0M462.7,456.8L472.2,447.6M462.7,460.4L472.2,451.3M462.7,464.0L472.2,454.9M462.7,467.7L472.2,458.5M462.7,471.3L472.2,462.1M462.7,474.9L472.2,465.7M462.7,478.5L472.2,469.3M462.7,482.1L472.2,472.9M462.7,485.7L472.2,476.6M462.7,489.3L472.2,480.2M462.7,493.0L472.2,483.8M462.7,496.6L472.2,487.4M462.7,500.2L472.2,491.0M462.7,503.8L472.2,494.6M462.7,507.4L472.2,498.2M462.7,511.0L472.2,501.9M462.7,514.6L472.2,505.5M462.7,518.3L472.2,509.1M462.7,521.9L472.2,512.7M462.7,525.5L472.2,516.3M462.7,529.1L472.2,519.9M462.7,532.7L472.2,523.5M462.7,536.3L472.2,527.2M462.7,539.9L472.2,530.8M462.7,543.6L472.2,534.4M462.7,547.2L472.2,538.0M462.7,550.8L472.2,541.6M505.4,484.2L514.9,475.1M505.4,487.9L514.9,478.7M505.4,491.5L514.9,482.3M505.4,495.1L514.9,485.9M505.4,498.7L514.9,489.5M505.4,502.3L514.9,493.1M505.4,505.9L514.9,496.7M505.4,509.5L514.9,500.4M505.4,513.2L514.9,504.0M505.4,516.8L514.9,507.6M505.4,520.4L514.9,511.2M505.4,524.0L514.9,514.8M505.4,527.6L514.9,518.4M505.4,531.2L514.9,522.1M505.4,534.8L514.9,525.7M505.4,538.5L514.9,529.3M505.4,542.1L514.9,532.9M505.4,545.7L514.9,536.5M505.4,549.3L514.9,540.1M505.4,552.9L514.9,543.7M548.1,182.7L557.6,173.6M548.1,186.4L557.6,177.2M548.1,190.0L557.6,180.8M548.1,193.6L557.6,184.4M548.1,197.2L557.6,188.0M548.1,200.8L557.6,191.6M548.1,204.4L557.6,195.3M548.1,208.0L557.6,198.9M548.1,211.7L557.6,202.5M548.1,215.3L557.6,206.1M548.1,218.9L557.6,209.7M548.1,222.5L557.6,213.3M548.1,226.1L557.6,216.9M548.1,229.7L557.6,220.6M548.1,233.3L557.6,224.2M548.1,237.0L557.6,227.8M548.1,240.6L557.6,231.4M548.1,244.2L557.6,235.0M548.1,247.8L557.6,238.6M548.1,251.4L557.6,242.2M548.1,255.0L557.6,245.9M548.1,258.6L557.6,249.5M548.1,262.3L557.6,253.1M548.1,265.9L557.6,256.7M548.1,269.5L557.6,260.3M548.1,273.1L557.6,263.9M548.1,276.7L557.6,267.5M548.1,280.3L557.6,271.2M548.1,283.9L557.6,274.8M548.1,287.6L557.6,278.4M548.1,291.2L557.6,282.0M548.1,294.8L557.6,285.6M548.1,298.4L557.6,289.2M548.1,302.0L557.6,292.8M548.1,305.6L557.6,296.5M548.1,309.2L557.6,300.1M548.1,312.9L557.6,303.7M548.1,316.5L557.6,307.3M548.1,320.1L557.6,310.9M548.1,323.7L557.6,314.5M548.1,327.3L557.6,318.1M548.1,330.9L557.6,321.8M548.1,334.5L557.6,325.4M548.1,338.2L557.6,329.0M548.1,341.8L557.6,332.6M548.1,345.4L557.6,336.2M548.1,349.0L557.6,339.8M548.1,352.6L557.6,343.4M548.1,356.2L557.6,347.1M548.1,359.9L557.6,350.7M548.1,363.5L557.6,354.3M548.1,367.1L557.6,357.9M548.1,370.7L557.6,361.5M548.1,374.3L557.6,365.1M548.1,377.9L557.6,368.7M548.1,381.5L557.6,372.4M548.1,385.2L557.6,376.0M548.1,388.8L557.6,379.6M548.1,392.4L557.6,383.2M548.1,396.0L557.6,386.8M548.1,399.6L557.6,390.4M548.1,403.2L557.6,394.0M548.1,406.8L557.6,397.7M548.1,410.5L557.6,401.3M548.1,414.1L557.6,404.9M548.1,417.7L557.6,408.5M548.1,421.3L557.6,412.1M548.1,424.9L557.6,415.7M548.1,428.5L557.6,419.4M548.1,432.1L557.6,423.0M548.1,435.8L557.6,426.6M548.1,439.4L557.6,430.2M548.1,443.0L557.6,433.8M548.1,446.6L557.6,437.4M548.1,450.2L557.6,441.0M548.1,453.8L557.6,444.7M548.1,457.4L557.6,448.3M548.1,461.1L557.6,451.9M548.1,464.7L557.6,455.5M548.1,468.3L557.6,459.1M548.1,471.9L557.6,462.7M548.1,475.5L557.6,466.3M548.1,479.1L557.6,470.0M548.1,482.7L557.6,473.6M548.1,486.4L557.6,477.2M548.1,490.0L557.6,480.8M548.1,493.6L557.6,484.4M548.1,497.2L557.6,488.0M548.1,500.8L557.6,491.6M548.1,504.4L557.6,495.3M548.1,508.0L557.6,498.9M548.1,511.7L557.6,502.5M548.1,515.3L557.6,506.1M548.1,518.9L557.6,509.7M548.1,522.5L557.6,513.3M548.1,526.1L557.6,516.9M548.1,529.7L557.6,520.6M548.1,533.3L557.6,524.2M548.1,537.0L557.6,527.8M548.1,540.6L557.6,531.4M548.1,544.2L557.6,535.0M548.1,547.8L557.6,538.6M548.1,551.4L557.6,542.2M633.5,476.1L643.0,467.0M633.5,479.7L643.0,470.6M633.5,483.4L643.0,474.2M633.5,487.0L643.0,477.8M633.5,490.6L643.0,481.4M633.5,494.2L643.0,485.0M633.5,497.8L643.0,488.6M633.5,501.4L643.0,492.3M633.5,505.1L643.0,495.9M633.5,508.7L643.0,499.5M633.5,512.3L643.0,503.1M633.5,515.9L643.0,506.7M633.5,519.5L643.0,510.3M633.5,523.1L643.0,513.9M633.5,526.7L643.0,517.6M633.5,530.4L643.0,521.2M633.5,534.0L643.0,524.8M633.5,537.6L643.0,528.4M633.5,541.2L643.0,532.0M633.5,544.8L643.0,535.6M633.5,548.4L643.0,539.2M633.5,552.0L643.0,542.9M676.3,467.4L685.8,458.2M676.3,471.0L685.8,461.9M676.3,474.6L685.8,465.5M676.3,478.3L685.8,469.1M676.3,481.9L685.8,472.7M676.3,485.5L685.8,476.3M676.3,489.1L685.8,479.9M676.3,492.7L685.8,483.5M676.3,496.3L685.8,487.2M676.3,499.9L685.8,490.8M676.3,503.6L685.8,494.4M676.3,507.2L685.8,498.0M676.3,510.8L685.8,501.6M676.3,514.4L685.8,505.2M676.3,518.0L685.8,508.8M676.3,521.6L685.8,512.5M676.3,525.2L685.8,516.1M676.3,528.9L685.8,519.7M676.3,532.5L685.8,523.3M676.3,536.1L685.8,526.9M676.3,539.7L685.8,530.5M676.3,543.3L685.8,534.1M676.3,546.9L685.8,537.8M676.3,550.5L685.8,541.4M719.0,469.5L728.5,460.4M719.0,473.1L728.5,464.0M719.0,476.8L728.5,467.6M719.0,480.4L728.5,471.2M719.0,484.0L728.5,474.8M719.0,487.6L728.5,478.4M719.0,491.2L728.5,482.0M719.0,494.8L728.5,485.7M719.0,498.4L728.5,489.3M719.0,502.1L728.5,492.9M719.0,505.7L728.5,496.5M719.0,509.3L728.5,500.1M719.0,512.9L728.5,503.7M719.0,516.5L728.5,507.3M719.0,520.1L728.5,511.0M719.0,523.7L728.5,514.6M719.0,527.4L728.5,518.2M719.0,531.0L728.5,521.8M719.0,534.6L728.5,525.4M719.0,538.2L728.5,529.0M719.0,541.8L728.5,532.6M719.0,545.4L728.5,536.3M719.0,549.0L728.5,539.9M719.0,552.7L728.5,543.5M761.7,468.0L771.2,458.9M761.7,471.6L771.2,462.5M761.7,475.3L771.2,466.1M761.7,478.9L771.2,469.7M761.7,482.5L771.2,473.3M761.7,486.1L771.2,476.9M761.7,489.7L771.2,480.5M761.7,493.3L771.2,484.2M761.7,496.9L771.2,487.8M761.7,500.6L771.2,491.4M761.7,504.2L771.2,495.0M761.7,507.8L771.2,498.6M761.7,511.4L771.2,502.2M761.7,515.0L771.2,505.8M761.7,518.6L771.2,509.5M761.7,522.2L771.2,513.1M761.7,525.9L771.2,516.7M761.7,529.5L771.2,520.3M761.7,533.1L771.2,523.9M761.7,536.7L771.2,527.5M761.7,540.3L771.2,531.1M761.7,543.9L771.2,534.8M761.7,547.5L771.2,538.4M761.7,551.2L771.2,542.0M618.5,64.2L643.9,39.7M618.5,67.8L643.9,43.3M618.5,71.4L643.9,46.9M618.5,75.0L643.9,50.5M618.5,78.6L643.9,54.1M618.5,82.3L643.9,57.7M618.5,85.9L643.9,61.3M618.5,89.5L643.9,65.0M618.5,93.1L643.9,68.6M618.5,96.7L643.9,72.2M618.5,100.3L643.9,75.8M618.5,103.9L643.9,79.4M618.5,107.6L643.9,83.0M618.5,111.2L643.9,86.6M618.5,114.8L643.9,90.3M618.5,118.4L643.9,93.9" stroke="#000" stroke-width="1.18" fill="none"/>
<rect x="104.0" y="500.8" width="7.5" height="36.7" fill="none" stroke="#111" stroke-width="1.2"/>
<rect x="121.9" y="473.2" width="7.5" height="64.3" fill="none" stroke="#111" stroke-width="1.2"/>
<rect x="189.4" y="485.7" width="7.5" height="51.8" fill="none" stroke="#111" stroke-width="1.2"/>
<rect x="207.3" y="172.4" width="7.5" height="365.1" fill="none" stroke="#111" stroke-width="1.2"/>
<rect x="232.2" y="487.0" width="7.5" height="50.5" fill="none" stroke="#111" stroke-width="1.2"/>
<rect x="250.1" y="164.1" width="7.5" height="373.4" fill="none" stroke="#111" stroke-width="1.2"/>
<rect x="274.9" y="485.3" width="7.5" height="52.2" fill="none" stroke="#111" stroke-width="1.2"/>
<rect x="292.8" y="462.3" width="7.5" height="75.2" fill="none" stroke="#111" stroke-width="1.2"/>
<rect x="317.6" y="484.0" width="7.5" height="53.5" fill="none" stroke="#111" stroke-width="1.2"/>
<rect x="335.5" y="187.0" width="7.5" height="350.5" fill="none" stroke="#111" stroke-width="1.2"/>
<rect x="403.0" y="467.2" width="7.5" height="70.3" fill="none" stroke="#111" stroke-width="1.2"/>
<rect x="420.9" y="168.4" width="7.5" height="369.1" fill="none" stroke="#111" stroke-width="1.2"/>
<rect x="445.8" y="464.2" width="7.5" height="73.3" fill="none" stroke="#111" stroke-width="1.2"/>
<rect x="463.7" y="152.5" width="7.5" height="385.0" fill="none" stroke="#111" stroke-width="1.2"/>
<rect x="488.5" y="495.5" width="7.5" height="42.0" fill="none" stroke="#111" stroke-width="1.2"/>
<rect x="506.4" y="488.4" width="7.5" height="49.1" fill="none" stroke="#111" stroke-width="1.2"/>
<rect x="531.2" y="479.8" width="7.5" height="57.7" fill="none" stroke="#111" stroke-width="1.2"/>
<rect x="549.1" y="186.4" width="7.5" height="351.1" fill="none" stroke="#111" stroke-width="1.2"/>
<rect x="616.6" y="499.8" width="7.5" height="37.7" fill="none" stroke="#111" stroke-width="1.2"/>
<rect x="634.5" y="480.0" width="7.5" height="57.5" fill="none" stroke="#111" stroke-width="1.2"/>
<rect x="659.4" y="503.0" width="7.5" height="34.5" fill="none" stroke="#111" stroke-width="1.2"/>
<rect x="677.3" y="471.3" width="7.5" height="66.2" fill="none" stroke="#111" stroke-width="1.2"/>
<rect x="702.1" y="500.6" width="7.5" height="36.9" fill="none" stroke="#111" stroke-width="1.2"/>
<rect x="720.0" y="472.7" width="7.5" height="64.8" fill="none" stroke="#111" stroke-width="1.2"/>
<rect x="744.8" y="505.3" width="7.5" height="32.2" fill="none" stroke="#111" stroke-width="1.2"/>
<rect x="762.7" y="471.5" width="7.5" height="66.0" fill="none" stroke="#111" stroke-width="1.2"/>
<rect x="111.95" y="351.6" width="9.55" height="186.2" fill="#0a0a0a"/>
<rect x="197.39" y="302.3" width="9.55" height="235.5" fill="#0a0a0a"/>
<rect x="240.11" y="270.5" width="9.55" height="267.3" fill="#0a0a0a"/>
<rect x="282.83" y="312.3" width="9.55" height="225.5" fill="#0a0a0a"/>
<rect x="325.55" y="272.6" width="9.55" height="265.2" fill="#0a0a0a"/>
<rect x="410.99" y="296.2" width="9.55" height="241.6" fill="#0a0a0a"/>
<rect x="453.71" y="317.0" width="9.55" height="220.8" fill="#0a0a0a"/>
<rect x="496.43" y="315.6" width="9.55" height="222.2" fill="#0a0a0a"/>
<rect x="539.15" y="275.4" width="9.55" height="262.4" fill="#0a0a0a"/>
<rect x="624.59" y="325.6" width="9.55" height="212.2" fill="#0a0a0a"/>
<rect x="667.32" y="312.7" width="9.55" height="225.1" fill="#0a0a0a"/>
<rect x="710.04" y="334.9" width="9.55" height="202.9" fill="#0a0a0a"/>
<rect x="752.76" y="321.0" width="9.55" height="216.8" fill="#0a0a0a"/>
<text x="296.6" y="411.8" class="b" font-size="18.3" text-anchor="middle">*</text>
<text x="510.6" y="411.6" class="b" font-size="18.3" text-anchor="middle">*</text>
<rect x="619.3" y="3.5" width="23.4" height="20.5" fill="none" stroke="#1a1a1a" stroke-width="0.9"/>
<text transform="translate(657.5,24.1) scale(1.03,1)" font-size="22">Normoxia</text>
<rect x="619.4" y="35.6" width="23.4" height="20.5" fill="#0a0a0a" stroke="#1a1a1a" stroke-width="0.9"/>
<text transform="translate(659.2,56.2) scale(1.035,1)" font-size="22">Hypoxia</text>
<rect x="619.5" y="67.7" width="23.4" height="20.5" fill="none" stroke="#1a1a1a" stroke-width="0.9"/>
<text transform="translate(658.5,86.3) scale(1.008,1)" font-size="22">Ifn-<tspan class="gm">γ</tspan>/LPS</text>
</g>
</svg></body></html>
